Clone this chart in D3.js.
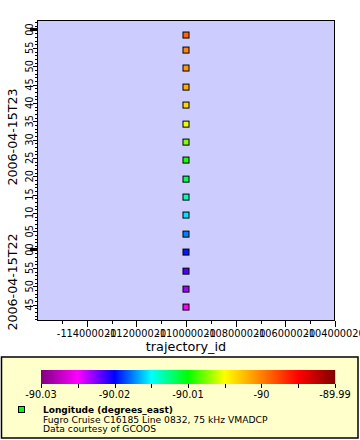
<!DOCTYPE html>
<html><head><meta charset="utf-8">
<script src="https://cdn.jsdelivr.net/npm/d3@7"></script>
<style>html,body{margin:0;padding:0;background:#fff;}svg{display:block;font-family:"DejaVu Sans",sans-serif;}</style>
</head><body>
<svg id="chart" width="360" height="440"></svg>
<script>
// ---- data ----
const trajectoryIds = [-110000020,-110000020,-110000020,-110000020,-110000020,-110000020,-110000020,-110000020,-110000020,-110000020,-110000020,-110000020,-110000020,-110000020,-110000020,-110000020];
const times = ["2006-04-15T21:44:18Z","2006-04-15T21:49:12Z","2006-04-15T21:54:06Z","2006-04-15T21:59:18Z","2006-04-15T22:04:12Z","2006-04-15T22:09:24Z","2006-04-15T22:14:18Z","2006-04-15T22:19:12Z","2006-04-15T22:24:24Z","2006-04-15T22:29:18Z","2006-04-15T22:34:12Z","2006-04-15T22:39:24Z","2006-04-15T22:44:18Z","2006-04-15T22:49:30Z","2006-04-15T22:54:24Z","2006-04-15T22:58:30Z"];
const longitudes = [-90.0250,-90.0232,-90.0215,-90.0195,-90.0175,-90.0155,-90.0135,-90.0117,-90.0095,-90.0075,-90.0053,-90.0035,-90.0018,-90.0010,-90.0003,-89.9990];
const xTickValues = [-114000020,-112000020,-110000020,-108000020,-106000020,-104000020];
const xDomain = [-116000020,-104000020];
const yDomain = ["2006-04-15T21:40:30Z","2006-04-15T23:02:36Z"];
const yMajorLabels = ["2006-04-15T22","2006-04-15T23"];
const colorTicks = [-90.03,-90.02,-90.01,-90,-89.99];
const colorTickLabels = ["-90.03","-90.02","-90.01","-90","-89.99"];
const paletteStops = [-90.03,-90.025,-90.02,-90.015,-90.01,-90.005,-90,-89.995,-89.99];
const paletteColors = ["#800080","#ff00ff","#0000ff","#00ffff","#00ff00","#ffff00","#ff8000","#ff0000","#800000"];
const legendLines = ["Longitude (degrees_east)","Fugro Cruise C16185 Line 0832, 75 kHz VMADCP","Data courtesy of GCOOS"];
const xTitle = "trajectory_id";

// ---- layout ----
const svg = d3.select("#chart");
const L = 37, R = 335, T = 20, B = 321;
const x = d3.scaleLinear().domain(xDomain).range([L, R]);
const y = d3.scaleUtc().domain(yDomain.map(d => new Date(d))).range([B, T]);
const color = d3.scaleLinear().domain(paletteStops).range(paletteColors).clamp(true);

svg.append("rect").attr("x", L).attr("y", T).attr("width", R - L).attr("height", B - T)
  .attr("fill", "#ccccff");

// x ticks
const xMinor = d3.range(xDomain[0] + 1000000, xDomain[1] + 1, 1000000);
svg.append("g").selectAll("line").data(xMinor).join("line")
  .attr("x1", d => Math.round(x(d)) + 0.5).attr("x2", d => Math.round(x(d)) + 0.5).attr("y1", B).attr("y2", B + 3)
  .attr("stroke", "#000").attr("stroke-width", 1);
svg.append("g").selectAll("line").data(xTickValues).join("line")
  .attr("x1", d => Math.round(x(d)) + 0.5).attr("x2", d => Math.round(x(d)) + 0.5).attr("y1", B).attr("y2", B + 6)
  .attr("stroke", "#000").attr("stroke-width", 1);
svg.append("g").selectAll("text").data(xTickValues).join("text")
  .attr("x", d => x(d)).attr("y", 337).attr("text-anchor", "middle")
  .attr("font-size", "9.8px").text(d => String(d));
svg.append("text").attr("x", x(-110000020)).attr("y", 351).attr("text-anchor", "middle")
  .attr("font-size", "12.8px").text(xTitle);

// y ticks
const yMinor = d3.utcMinute.every(1).range(y.domain()[0], y.domain()[1]);
const yFive = d3.utcMinute.every(5).range(y.domain()[0], y.domain()[1]);
const yHour = d3.utcHour.every(1).range(y.domain()[0], y.domain()[1]);
svg.append("g").selectAll("line").data(yMinor).join("line")
  .attr("x1", L - 2).attr("x2", L).attr("y1", d => Math.round(y(d)) + 0.5).attr("y2", d => Math.round(y(d)) + 0.5)
  .attr("stroke", "#000").attr("stroke-width", 1);
svg.append("g").selectAll("line").data(yFive).join("line")
  .attr("x1", L - 4).attr("x2", L).attr("y1", d => Math.round(y(d)) + 0.5).attr("y2", d => Math.round(y(d)) + 0.5)
  .attr("stroke", "#000").attr("stroke-width", 1);
svg.append("g").selectAll("line").data(yHour).join("line")
  .attr("x1", L - 7).attr("x2", L).attr("y1", d => y(d)).attr("y2", d => y(d))
  .attr("stroke", "#000").attr("stroke-width", 3);
const fmtM = d3.utcFormat("%M");
svg.append("g").selectAll("text").data(yFive).join("text")
  .attr("transform", d => `translate(32.5,${y(d)}) rotate(-90)`)
  .attr("text-anchor", "middle").attr("font-size", "9.8px").text(d => fmtM(d));
// major (hour) labels
svg.append("g").selectAll("text").data(yMajorLabels).join("text")
  .attr("transform", (d, i) => `translate(17,${i === 0 ? 282 : 137}) rotate(-90)`)
  .attr("text-anchor", "middle").attr("font-size", "12.6px").text(d => d);

// plot border
svg.append("rect").attr("x", L + 0.5).attr("y", T + 0.5).attr("width", R - L - 1).attr("height", B - T - 1)
  .attr("fill", "none").attr("stroke", "#000").attr("stroke-width", 1);

// points
const pts = times.map((t, i) => ({x: trajectoryIds[i], t: new Date(t), v: longitudes[i]}));
svg.append("g").selectAll("rect").data(pts).join("rect")
  .attr("x", d => x(d.x) - 3).attr("y", d => y(d.t) - 3).attr("width", 6).attr("height", 6)
  .attr("fill", d => color(d.v)).attr("stroke", "#000").attr("stroke-width", 1);

// legend box
svg.append("rect").attr("x", 1.5).attr("y", 357).attr("width", 356.5).attr("height", 81)
  .attr("fill", "#ffffcc").attr("stroke", "#000").attr("stroke-width", 1.5);

// colorbar
const cb = d3.scaleLinear().domain([-90.03, -89.99]).range([41, 335]);
const cbPix = d3.range(41, 335);
svg.append("g").selectAll("rect").data(cbPix).join("rect")
  .attr("x", d => d).attr("y", 370).attr("width", 1.2).attr("height", 14)
  .attr("fill", d => color(cb.invert(d + 0.5)));
const cbMinor = [-90.025, -90.015, -90.005, -89.995];
svg.append("g").selectAll("line").data(colorTicks.concat(cbMinor)).join("line")
  .attr("x1", d => Math.round(cb(d)) + 0.5).attr("x2", d => Math.round(cb(d)) + 0.5).attr("y1", 384).attr("y2", 388)
  .attr("stroke", "#000").attr("stroke-width", 1);
svg.append("g").selectAll("text").data(colorTicks).join("text")
  .attr("x", d => cb(d)).attr("y", 397.5).attr("text-anchor", "middle")
  .attr("font-size", "9.8px").text((d, i) => colorTickLabels[i]);

// legend entry
svg.append("rect").attr("x", 18.5).attr("y", 406.5).attr("width", 6).attr("height", 6)
  .attr("fill", "#00ff00").attr("stroke", "#000").attr("stroke-width", 1);
svg.append("text").attr("x", 43).attr("y", 412.5).attr("font-size", "9px").attr("font-weight", "bold").text(legendLines[0]);
svg.append("text").attr("x", 43).attr("y", 422.5).attr("font-size", "9.2px").text(legendLines[1]);
svg.append("text").attr("x", 43).attr("y", 432).attr("font-size", "9.2px").text(legendLines[2]);
</script>
</body></html>
